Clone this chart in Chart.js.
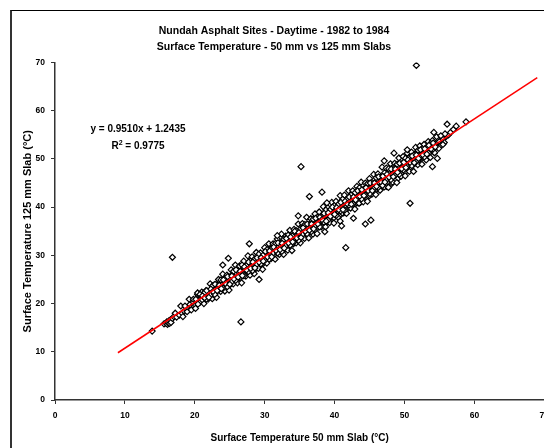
<!DOCTYPE html>
<html>
<head>
<meta charset="utf-8">
<title>Nundah Asphalt Sites</title>
<script src="https://cdn.jsdelivr.net/npm/chart.js@4.4.1/dist/chart.umd.min.js"></script>
<style>
  html, body { margin: 0; padding: 0; background: #fff; overflow: hidden; }
  #wrap { position: relative; width: 544px; height: 448px; overflow: hidden; }
  #frame { position: absolute; left: 10px; top: 10px; width: 600px; height: 500px;
           border-top: 1px solid #000; border-left: 2px solid #333; }
  #chart { position: absolute; left: 0; top: 0; }
  .eq { position: absolute; left: 78px; width: 120px; text-align: center; color: #000;
        font: bold 10px "Liberation Sans", Arial, sans-serif; line-height: 12px; }
  .eq sup { font-size: 7px; position: relative; top: -4px; vertical-align: baseline; }
</style>
</head>
<body>
<div id="wrap">
  <div id="frame"></div>
  <canvas id="chart" width="556" height="448"></canvas>
  <div class="eq" style="top:123px">y = 0.9510x + 1.2435</div>
  <div class="eq" style="top:140px">R<sup>2</sup> = 0.9775</div>
</div>
<script>
// surface temperature readings: [50 mm slab, 125 mm slab] in °C
const readings = [
  [15.6,15.8],[15.9,15.9],[16.0,16.2],[16.1,15.7],[16.2,16.0],[16.3,16.4],[16.4,15.9],[16.5,16.6],[16.6,16.1],[16.8,16.9],
  [17.0,17.3],[17.2,18.0],[17.4,17.2],[17.8,17.6],[18.2,18.0],[18.5,18.4],[18.9,18.7],[19.3,19.8],[19.6,19.4],[19.8,20.3],
  [19.9,19.5],[20.1,19.7],[20.2,20.4],[20.4,21.9],[20.5,20.6],[20.7,20.9],
  [21.0,21.2],[21.2,20.8],[21.4,21.9],[21.6,21.3],[21.8,22.5],[22.0,21.7],[22.2,22.4],[22.3,21.6],[22.5,23.1],[22.7,22.2],
  [22.9,22.9],[23.0,23.8],[23.2,22.6],[23.4,23.5],[23.5,24.3],[23.7,22.9],[23.9,24.0],[24.0,23.3],[24.2,24.6],[24.3,23.8],
  [24.5,25.0],[24.6,24.1],[24.8,23.6],[24.9,25.4],[25.0,24.5],
  [25.1,25.2],[25.2,24.2],[25.3,25.8],[25.4,24.9],[25.5,26.1],[25.6,25.3],[25.7,24.6],[25.8,26.4],[25.9,25.7],[26.0,26.2],
  [26.1,25.0],[26.2,26.8],[26.3,25.9],[26.4,26.5],[26.5,25.4],[26.6,27.1],[26.7,26.0],[26.8,26.7],[26.9,25.8],[27.0,27.4],
  [27.1,26.4],[27.2,27.0],[27.3,26.1],[27.4,27.8],[27.5,26.9],[27.6,27.3],[27.7,26.5],[27.8,28.1],[27.9,27.5],[28.0,28.6],
  [28.1,27.0],[28.2,28.2],[28.3,27.6],[28.4,29.0],[28.5,27.9],[28.6,28.4],[28.7,27.2],[28.8,28.9],[28.9,28.0],[29.0,29.3],
  [29.1,28.5],[29.2,27.8],[29.3,29.1],[29.4,28.7],[29.5,29.8],[29.6,28.9],[29.7,28.2],[29.8,29.5],[29.9,30.2],[30.0,29.4],
  [30.1,30.5],[30.2,29.1],[30.3,30.0],[30.4,31.0],[30.5,29.6],[30.6,30.7],[30.7,29.9],[30.8,31.3],[30.9,30.3],[31.0,29.5],
  [31.1,31.0],[31.2,30.6],[31.3,31.7],[31.4,30.2],[31.5,31.2],[31.6,30.8],[31.7,32.0],[31.8,31.4],[31.9,30.6],[32.0,31.9],
  [32.1,31.1],[32.2,32.5],[32.3,31.6],[32.4,30.9],[32.5,32.2],[32.6,31.8],[32.7,33.0],[32.8,32.1],[32.9,31.3],[33.0,32.6],
  [33.1,33.4],[33.2,32.0],[33.3,32.9],[33.4,31.9],[33.5,33.7],[33.6,32.8],[33.7,32.2],[33.8,33.3],[33.9,34.0],[34.0,33.1],
  [34.1,32.4],[34.2,33.8],[34.3,34.4],[34.4,33.2],[34.5,32.9],[34.6,34.1],[34.7,33.6],[34.8,34.8],[34.9,33.4],[35.0,34.5],
  [35.1,35.2],[35.2,33.9],[35.3,34.6],[35.4,35.6],[35.5,34.2],[35.6,35.0],[35.7,36.0],[35.8,34.7],[35.9,35.4],[36.0,34.6],
  [36.1,36.2],[36.2,35.1],[36.3,35.8],[36.4,34.9],[36.5,36.5],[36.6,35.5],[36.7,36.1],[36.8,35.0],[36.9,36.8],[37.0,35.9],
  [37.1,36.4],[37.2,35.3],[37.3,37.1],[37.4,36.3],[37.5,36.8],[37.6,35.8],[37.7,37.4],[37.8,36.6],[37.9,37.9],[38.0,36.9],
  [38.1,36.2],[38.2,37.6],[38.3,38.3],[38.4,37.1],[38.5,36.5],[38.6,37.9],[38.7,38.5],[38.8,37.3],[38.9,38.1],[39.0,36.9],
  [39.1,38.7],[39.2,37.7],[39.3,38.3],[39.4,37.2],[39.5,39.0],[39.6,38.0],[39.7,38.6],[39.8,39.5],[39.9,37.8],[40.0,39.1],
  [40.1,39.7],[40.2,38.4],[40.3,39.3],[40.4,40.1],[40.5,38.9],[40.6,39.6],[40.7,38.2],[40.8,40.3],[40.9,39.2],[41.0,40.0],
  [41.1,40.8],[41.2,39.4],[41.3,38.8],[41.4,40.5],[41.5,39.9],[41.6,41.1],[41.7,40.2],[41.8,39.6],[41.9,41.4],[42.0,40.6],
  [42.1,41.8],[42.2,40.0],[42.3,41.0],[42.4,42.2],[42.5,40.7],[42.6,41.5],[42.7,40.3],[42.8,42.0],[42.9,41.2],[43.0,42.6],
  [43.1,41.7],[43.2,40.9],[43.3,42.3],[43.4,41.4],[43.5,43.0],[43.6,42.1],[43.7,41.0],[43.8,42.8],[43.9,43.5],[44.0,42.4],
  [44.1,41.6],[44.2,43.2],[44.3,42.7],[44.4,43.9],[44.5,42.0],[44.6,43.4],[44.7,42.9],[44.8,44.2],[44.9,43.1],[45.0,42.4],
  [45.1,44.0],[45.2,43.5],[45.3,44.6],[45.4,42.8],[45.5,43.9],[45.6,44.9],[45.7,43.3],[45.8,44.4],[45.9,45.2],[46.0,43.7],
  [46.1,44.8],[46.2,45.6],[46.3,44.1],[46.4,45.0],[46.5,43.6],[46.6,45.4],[46.7,46.0],[46.8,44.5],[46.9,45.7],[47.0,46.3],
  [47.1,44.9],[47.2,46.6],[47.3,45.5],[47.4,44.3],[47.5,46.1],[47.6,46.9],[47.7,45.2],[47.8,46.4],[47.9,47.3],[48.0,45.8],
  [48.1,46.7],[48.2,44.9],[48.3,47.0],[48.4,47.7],[48.5,46.2],[48.6,47.4],[48.7,45.6],[48.8,48.0],[48.9,46.9],[49.0,47.6],
  [49.1,46.0],[49.2,48.3],[49.3,47.2],[49.4,46.5],[49.5,48.0],[49.6,48.7],[49.7,47.0],[49.8,47.9],[49.9,49.2],[50.0,48.4],
  [50.1,47.3],[50.2,49.0],[50.3,48.5],[50.4,49.6],[50.5,47.8],[50.6,49.3],[50.7,48.8],[50.8,50.0],[50.9,48.1],[51.0,49.5],
  [51.2,50.3],[51.3,48.9],[51.4,49.9],[51.5,51.0],[51.6,49.2],[51.8,50.6],[51.9,51.3],[52.0,49.7],[52.1,50.9],[52.3,51.6],
  [52.4,50.1],[52.5,51.2],[52.7,50.6],[52.8,52.0],[53.0,51.4],[53.1,50.3],[53.3,52.2],[53.4,51.0],[53.6,52.6],[53.8,51.7],
  [54.0,52.9],[54.2,52.1],[54.3,51.3],[54.5,53.2],[54.7,52.5],[55.0,53.6],[55.2,52.8],[55.5,54.1],[55.7,53.4],[56.0,54.7],
  [56.3,55.0],[56.6,55.5],[57.0,56.1],[57.4,56.8]
];

// readings on the edges of the band
const edgeReadings = [
  [18.0,19.5],[18.3,17.3],[18.6,19.5],[18.9,18.3],[19.2,20.9],[19.5,18.7],[19.8,20.9],[20.1,19.0],[20.4,22.2],[20.7,20.2],
  [21.0,22.4],[21.3,20.0],[21.6,22.7],[21.9,20.9],[22.2,24.1],[22.5,21.0],[22.8,23.9],[23.1,21.3],[23.4,25.0],[23.7,22.5],
  [24.0,26.1],[24.3,22.6],[24.6,25.9],[24.9,22.8],[25.2,27.0],[25.5,24.1],[25.8,28.0],[26.1,24.3],[26.4,27.8],[26.7,24.3],
  [27.0,28.8],[27.3,25.7],[27.6,29.9],[27.9,25.9],[28.2,29.7],[28.5,26.2],[28.8,30.6],[29.1,27.3],[29.4,30.5],[29.7,27.1],
  [30.0,31.6],[30.3,28.4],[30.6,32.4],[30.9,29.3],[31.2,32.4],[31.5,29.2],[31.8,33.4],[32.1,30.2],[32.4,34.4],[32.7,30.2],
  [33.0,34.0],[33.3,31.1],[33.6,35.2],[33.9,31.0],[34.2,35.4],[34.5,32.6],[34.8,36.5],[35.1,32.6],[35.4,36.6],[35.7,33.5],
  [36.0,37.9],[36.3,33.6],[36.6,37.6],[36.9,34.4],[37.2,38.6],[37.5,34.5],[37.8,39.0],[38.1,35.9],[38.4,40.1],[38.7,35.9],
  [39.0,39.9],[39.3,36.8],[39.6,41.0],[39.9,36.7],[40.2,41.2],[40.5,37.9],[40.8,42.4],[41.1,38.8],[41.4,42.5],[41.7,38.7],
  [42.0,43.4],[42.3,39.8],[42.6,43.4],[42.9,39.6],[43.2,44.3],[43.5,40.8],[43.8,45.2],[44.1,41.1],[44.4,45.0],[44.7,41.2],
  [45.0,45.9],[45.3,42.7],[45.6,46.8],[45.9,42.6],[46.2,46.9],[46.5,43.5],[46.8,48.3],[47.1,44.2],[47.4,48.1],[47.7,44.1],
  [48.0,49.0],[48.3,45.2],[48.6,49.1],[48.9,45.1],[49.2,50.2],[49.5,46.4],[49.8,50.5],[50.1,46.5],[50.4,51.2],[50.7,47.4],
  [51.0,51.4],[51.3,47.4],[51.6,52.4],[51.9,48.8],[52.2,52.7],[52.5,48.9],[52.8,53.0],[53.1,49.8],[53.4,53.6],[53.7,50.3],
  [54.0,53.8],[54.3,51.3],[54.6,54.6],[54.9,52.2],[55.2,54.8],[55.5,53.0],[55.8,55.2]
];

// readings filling the middle of the band
const coreReadings = [
  [20.15,20.9],[20.45,19.9],[20.75,21.9],[21.05,20.8],[21.35,22.2],[21.65,20.9],[21.95,22.5],[22.25,21.7],[22.55,23.7],[22.85,21.9],
  [23.15,23.9],[23.45,22.9],[23.75,24.9],[24.05,23.2],[24.35,25.2],[24.65,23.5],[24.95,25.5],[25.25,24.5],[25.55,26.7],[25.85,24.8],
  [26.15,26.8],[26.45,25.9],[26.75,28.0],[27.05,25.8],[27.35,27.9],[27.65,26.6],[27.95,28.8],[28.25,26.8],[28.55,29.2],[28.85,28.1],
  [29.15,30.2],[29.45,28.2],[29.75,30.0],[30.05,29.0],[30.35,31.2],[30.65,29.2],[30.95,31.4],[31.25,30.5],[31.55,32.5],[31.85,30.5],
  [32.15,32.4],[32.45,30.8],[32.75,33.3],[33.05,32.0],[33.35,34.2],[33.65,32.1],[33.95,34.0],[34.25,32.9],[34.55,35.1],[34.85,33.1],
  [35.15,35.5],[35.45,34.4],[35.75,36.4],[36.05,34.5],[36.35,36.4],[36.65,34.9],[36.95,37.5],[37.25,36.0],[37.55,37.9],[37.85,35.9],
  [38.15,38.0],[38.45,36.9],[38.75,39.4],[39.05,37.3],[39.35,39.4],[39.65,38.4],[39.95,40.3],[40.25,38.3],[40.55,40.6],[40.85,39.2],
  [41.15,41.6],[41.45,39.4],[41.75,41.5],[42.05,40.4],[42.35,42.5],[42.65,40.7],[42.95,43.0],[43.25,41.8],[43.55,44.0],[43.85,41.7],
  [44.15,43.7],[44.45,42.5],[44.75,44.9],[45.05,42.8],[45.35,45.1],[45.65,43.9],[45.95,46.1],[46.25,44.1],[46.55,46.1],[46.85,44.5],
  [47.15,47.1],[47.45,45.7],[47.75,48.0],[48.05,45.7],[48.35,48.0],[48.65,46.6],[48.95,48.9],[49.25,46.8],[49.55,49.0],[49.85,47.7],
  [50.15,50.1],[50.45,48.4],[50.75,50.4],[51.05,48.6],[51.35,50.8],[51.65,49.4],[51.95,51.8],[52.25,50.2],[52.55,52.1],[52.85,50.4],
  [53.15,52.4],[53.45,51.2],[53.75,53.2],[54.05,52.0],
  [21.1,21.6],[21.4,21.2],[21.7,22.7],[22.0,21.3],[22.3,23.0],[22.6,22.5],[22.9,24.0],[23.2,22.7],[23.5,23.8],[23.8,23.1],
  [24.1,24.9],[24.4,24.2],[24.7,25.6],[25.0,24.0],[25.3,25.7],[25.6,25.1],[25.9,27.0],[26.2,25.5],[26.5,26.7],[26.8,25.8],
  [27.1,27.6],[27.4,27.0],[27.7,28.6],[28.0,27.3],[28.3,28.6],[28.6,27.4],[28.9,29.5],[29.2,28.6],[29.5,29.5],[29.8,28.8],
  [30.1,30.8],[30.4,29.7],[30.7,30.9],[31.0,29.7],[31.3,31.7],[31.6,31.0],[31.9,32.6],[32.2,31.2],[32.5,32.5],[32.8,31.5],
  [33.1,33.5],[33.4,32.6],[33.7,33.8],[34.0,32.8],[34.3,35.0],[34.6,33.6],[34.9,34.7],[35.2,33.7],[35.5,35.7],[35.8,35.0],
  [36.1,36.5],[36.4,35.2],[36.7,36.5],[37.0,35.5],[37.3,37.7],[37.6,36.5],[37.9,37.9],[38.2,37.4],[38.5,38.7],[38.8,37.1],
  [39.1,38.8],[39.4,38.1],[39.7,40.0],[40.0,38.5],[40.3,39.9],[40.6,39.5],[40.9,41.0],[41.2,39.5],[41.5,41.2],[41.8,40.7],
  [42.1,42.1],[42.4,40.6],[42.7,42.1],[43.0,41.5],[43.3,43.4],[43.6,42.3],[43.9,43.6],[44.2,42.4],[44.5,44.0],[44.8,43.4],
  [45.1,45.0],[45.4,43.4],[45.7,45.0],[46.0,44.3],[46.3,46.3],[46.6,45.3],[46.9,46.4],[47.2,45.2],[47.5,46.8],[47.8,46.2],
  [48.1,47.9],[48.4,46.3],[48.7,47.9],[49.0,47.2],[49.3,49.1],[49.6,48.0],[49.9,49.3],[50.2,48.2],[50.5,49.8],[50.8,49.3],
  [51.1,50.6],[51.4,49.2],[51.7,50.8],[52.0,50.1],[52.3,51.9],[52.6,50.9],[52.9,52.1],[53.2,51.0],[53.5,52.8],[53.8,52.1],
  [54.1,53.3],[54.4,52.5]
];

// readings sitting away from the main band
const outliers = [
  [13.9,14.3],[16.8,29.6],[51.7,69.4],[26.6,16.2],[35.2,48.4],[41.6,31.6],[34.8,38.2],[38.2,43.1],[36.4,42.2],[38.9,40.9],
  [44.4,36.5],[45.2,37.3],[42.7,37.7],[40.8,37.1],[41.0,36.1],[38.6,34.9],[50.8,40.8],[48.5,51.2],[47.1,49.6],[27.8,32.4],
  [29.2,25.0],[24.8,29.4],[24.0,28.0],[31.8,34.1],[54.2,55.5],[56.1,57.2],[58.8,57.7],[54.7,50.1],[54.0,48.4],[50.4,51.9]
];

// fitted line y = 0.9510x + 1.2435, end points as drawn
const trendLine = [[9, 9.80], [69, 66.86]];

const titleLines = ['Nundah Asphalt Sites - Daytime - 1982 to 1984', 'Surface Temperature - 50 mm vs 125 mm Slabs'];
const xTitle = 'Surface Temperature 50 mm Slab (°C)';
const yTitle = 'Surface Temperature 125 mm Slab (°C)';

const fam = '"Liberation Sans", Arial, sans-serif';
const bold = (size, lineHeight) => ({ family: fam, size: size, weight: 'bold', lineHeight: lineHeight || 1.2 });
const toXY = (arr) => arr.map(([x, y]) => ({ x: x, y: y }));

const allReadings = readings.concat(edgeReadings, coreReadings, outliers);

const ctx = document.getElementById('chart').getContext('2d');
const chart = new Chart(ctx, {
  type: 'scatter',
  data: {
    datasets: [
      {
        type: 'line',
        label: 'Trend',
        data: toXY(trendLine),
        borderColor: '#ff0000',
        borderWidth: 1.5,
        pointRadius: 0,
        fill: false,
        order: 0,
      },
      {
        label: 'Readings',
        data: toXY(allReadings),
        pointStyle: 'rectRot',
        pointRadius: 3,
        borderColor: '#000',
        backgroundColor: '#fff',
        borderWidth: 1.2,
        order: 1,
      },
    ],
  },
  options: {
    responsive: false,
    animation: false,
    devicePixelRatio: 1,
    layout: { padding: { left: 0, right: 8, top: 0, bottom: 0 } },
    plugins: {
      legend: { display: false },
      tooltip: { enabled: false },
      title: {
        display: true,
        text: titleLines,
        color: '#000',
        font: bold(10.5, 1.5),
        padding: { top: 23, bottom: 8 },
      },
    },
    scales: {
      x: {
        type: 'linear',
        min: 0,
        max: 70,
        ticks: { stepSize: 10, color: '#000', font: bold(8.5), padding: 7 },
        grid: { drawOnChartArea: false, drawTicks: true, tickLength: 4, color: '#333' },
        border: { color: '#333', width: 1.5 },
        title: { display: true, text: xTitle, color: '#000', font: bold(10), padding: { top: 0, bottom: 4 } },
        afterFit: (s) => { s.height = 48; },
      },
      y: {
        type: 'linear',
        min: 0,
        max: 70,
        ticks: { stepSize: 10, color: '#000', font: bold(8.5), padding: 6 },
        grid: { drawOnChartArea: false, drawTicks: true, tickLength: 4, color: '#333' },
        border: { color: '#333', width: 1.5 },
        title: { display: true, text: yTitle, color: '#000', font: bold(11), padding: { top: 21, bottom: 0 } },
        afterFit: (s) => { s.width = 55; },
      },
    },
  },
});
</script>
</body>
</html>
